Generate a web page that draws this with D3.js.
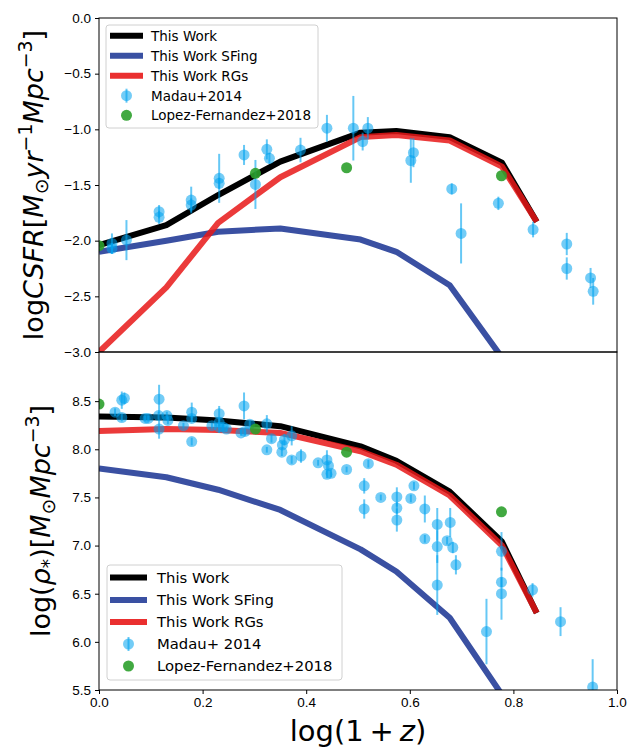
<!DOCTYPE html>
<html>
<head>
<meta charset="utf-8">
<script src="https://cdn.jsdelivr.net/npm/d3@7"></script>
<style>
  body { margin: 0; background: #fff; }
  svg { font-family: "DejaVu Sans", sans-serif; }
  .tick text { font-size: 13.5px; fill: #000; }
  .tick line { stroke: #000; }
</style>
</head>
<body>
<svg id="chart" width="630" height="748"></svg>
<script>
// model curves, x = log(1+z)
const modelX = [0, 0.13, 0.23, 0.35, 0.505, 0.574, 0.677, 0.778, 0.845];
const csfrAll = [-2.04, -1.86, -1.59, -1.29, -1.03, -1.015, -1.07, -1.30, -1.83];
const csfrSF  = [-2.10, -2.00, -1.92, -1.89, -1.99, -2.10, -2.40, -3.05, -3.6];
const csfrRG  = [-3.00, -2.42, -1.84, -1.43, -1.07, -1.05, -1.10, -1.335, -1.83];
const rhoAll = [8.34, 8.33, 8.30, 8.24, 8.03, 7.88, 7.56, 7.04, 6.30];
const rhoSF  = [7.80, 7.71, 7.58, 7.37, 6.96, 6.73, 6.25, 5.45, 4.9];
const rhoRG  = [8.19, 8.21, 8.20, 8.17, 7.98, 7.84, 7.52, 7.00, 6.30];

// Madau & Dickinson 2014 compilation, CSFR
const madauSfrX = [0.025, 0.025, 0.053, 0.116, 0.116, 0.178, 0.178, 0.232, 0.232, 0.28, 0.302, 0.324, 0.329, 0.389,
  0.44, 0.491, 0.519, 0.509, 0.607, 0.602, 0.681, 0.699, 0.771, 0.838, 0.903, 0.903, 0.949, 0.954];
const madauSfrY = [-2.025, -2.07, -1.995, -1.74, -1.79, -1.635, -1.68, -1.44, -1.485, -1.23, -1.495, -1.18, -1.26, -1.186,
  -0.99, -0.99, -0.99, -1.11, -1.21, -1.28, -1.535, -1.935, -1.665, -1.9, -2.03, -2.25, -2.335, -2.455];
const madauSfrErr = [0.09, 0.05, 0.18, 0.06, 0.06, 0.12, 0.06, 0.22, 0.05, 0.09, 0.22, 0.09, 0.05, 0.11,
  0.12, 0.29, 0.1, 0.08, 0.13, 0.2, 0.05, 0.27, 0.06, 0.07, 0.1, 0.1, 0.09, 0.12];

// Madau & Dickinson 2014 compilation, stellar mass density
const madauRhoX = [0.031, 0.044, 0.044, 0.049, 0.089, 0.095, 0.116, 0.115, 0.116, 0.131, 0.133, 0.163, 0.179, 0.179,
  0.179, 0.218, 0.232, 0.232, 0.232, 0.24, 0.28, 0.246, 0.274, 0.282, 0.291, 0.324, 0.333, 0.324, 0.354, 0.358,
  0.372, 0.353, 0.372, 0.39, 0.423, 0.44, 0.443, 0.44, 0.448, 0.478, 0.52, 0.512, 0.512, 0.544, 0.575, 0.575,
  0.575, 0.608, 0.602, 0.629, 0.629, 0.653, 0.653, 0.653, 0.678, 0.672, 0.683, 0.689, 0.748, 0.777, 0.777, 0.777,
  0.837, 0.891, 0.953];
const madauRhoY = [8.385, 8.33, 8.51, 8.53, 8.32, 8.32, 8.52, 8.35, 8.21, 8.35, 8.30, 8.245, 8.385, 8.32,
  8.08, 8.245, 8.37, 8.28, 8.23, 8.23, 8.45, 8.21, 8.17, 8.185, 8.26, 8.265, 8.11, 7.995, 8.045, 8.10,
  8.14, 7.97, 7.89, 7.93, 7.86, 7.89, 7.83, 7.74, 7.75, 7.79, 7.85, 7.62, 7.38, 7.5, 7.505, 7.39,
  7.265, 7.62, 7.49, 7.38, 7.07, 7.22, 6.99, 6.59, 7.24, 7.05, 6.98, 6.80, 6.107, 6.94, 6.62, 6.50,
  6.54, 6.21, 5.53];
const madauRhoErr = [0.04, 0.04, 0.09, 0.06, 0.03, 0.03, 0.15, 0.04, 0.1, 0.04, 0.04, 0.03, 0.1, 0.04,
  0.04, 0.03, 0.08, 0.04, 0.06, 0.04, 0.14, 0.03, 0.03, 0.04, 0.04, 0.09, 0.04, 0.03, 0.04, 0.06,
  0.1, 0.04, 0.04, 0.07, 0.03, 0.1, 0.04, 0.04, 0.04, 0.03, 0.04, 0.08, 0.1, 0.03, 0.1, 0.06,
  0.12, 0.04, 0.04, 0.14, 0.04, 0.17, 0.17, 0.31, 0.15, 0.04, 0.06, 0.1, 0.34, 0.2, 0.05, 0.27,
  0.07, 0.15, 0.29];

// Lopez-Fernandez+2018
const lopezX = [0, 0.302, 0.478, 0.777];
const lopezSfr = [-2.045, -1.395, -1.345, -1.417];
const lopezRho = [8.47, 8.21, 7.97, 7.35];

const sfrTicks = [0, -0.5, -1, -1.5, -2, -2.5, -3];
const rhoTicks = [5.5, 6, 6.5, 7, 7.5, 8, 8.5];
const xTicks = [0, 0.2, 0.4, 0.6, 0.8, 1.0];

const colAll = '#000000', colSF = '#3a50a2', colRG = '#e81818';
const colMadau = '#00a3ee', colLopez = '#2ca02c';

const svg = d3.select('#chart');
const left = 99, right = 617;

const x = d3.scaleLinear().domain([0, 1]).range([left, right]);
const ySfr = d3.scaleLinear().domain([-3, 0]).range([352, 18]);
const yRho = d3.scaleLinear().domain([5.5, 9.0]).range([690, 353]);

function panel(id, y, curves, mx, my, merr, ly, top, bottom) {
  svg.append('clipPath').attr('id', id)
    .append('rect').attr('x', left).attr('y', top).attr('width', right - left).attr('height', bottom - top);
  const g = svg.append('g').attr('clip-path', `url(#${id})`);

  const line = d3.line().x((d, i) => x(modelX[i])).y(d => y(d));
  curves.forEach(c => {
    g.append('path').datum(c.v)
      .attr('d', line)
      .attr('fill', 'none')
      .attr('stroke', c.col)
      .attr('stroke-opacity', c.op)
      .attr('stroke-width', 6)
      .attr('stroke-linejoin', 'round');
  });

  // Madau points with error bars
  const pts = mx.map((d, i) => [d, my[i], merr[i]]);
  const pg = g.append('g');
  pg.selectAll('.err').data(pts).enter().append('line')
    .attr('x1', d => x(d[0])).attr('x2', d => x(d[0]))
    .attr('y1', d => y(d[1] - d[2])).attr('y2', d => y(d[1] + d[2]))
    .attr('stroke', colMadau).attr('stroke-opacity', 0.6).attr('stroke-width', 2);
  pg.selectAll('.dot').data(pts).enter().append('circle')
    .attr('cx', d => x(d[0])).attr('cy', d => y(d[1])).attr('r', 5.5)
    .attr('fill', colMadau).attr('fill-opacity', 0.55);

  g.selectAll('.lopez').data(lopezX).enter().append('circle')
    .attr('cx', d => x(d)).attr('cy', (d, i) => y(ly[i])).attr('r', 5.5)
    .attr('fill', colLopez).attr('fill-opacity', 0.9);
}

panel('clipTop', ySfr, [
  {v: csfrAll, col: colAll, op: 1},
  {v: csfrSF, col: colSF, op: 1},
  {v: csfrRG, col: colRG, op: 0.85}
], madauSfrX, madauSfrY, madauSfrErr, lopezSfr, 18, 352);

panel('clipBot', yRho, [
  {v: rhoAll, col: colAll, op: 1},
  {v: rhoSF, col: colSF, op: 1},
  {v: rhoRG, col: colRG, op: 0.85}
], madauRhoX, madauRhoY, madauRhoErr, lopezRho, 352, 690);

// axes
const fmt = d3.format('.1f');
svg.append('g').attr('transform', `translate(${left},0)`)
  .call(d3.axisLeft(ySfr).tickValues(sfrTicks).tickFormat(fmt).tickSize(4).tickPadding(4).tickSizeOuter(0))
  .call(g => g.select('.domain').remove());
svg.append('g').attr('transform', `translate(${left},0)`)
  .call(d3.axisLeft(yRho).tickValues(rhoTicks).tickFormat(fmt).tickSize(4).tickPadding(4).tickSizeOuter(0))
  .call(g => g.select('.domain').remove());
svg.append('g').attr('transform', 'translate(0,690)')
  .call(d3.axisBottom(x).tickValues(xTicks).tickFormat(fmt).tickSize(4).tickPadding(3).tickSizeOuter(0))
  .call(g => g.select('.domain').remove());

// frames
[[18, 352], [352, 690]].forEach(([t, b]) => {
  svg.append('rect').attr('x', left).attr('y', t).attr('width', right - left).attr('height', b - t)
    .attr('fill', 'none').attr('stroke', '#000').attr('stroke-width', 1);
});

// legends
function legend(bx, by, bw, bh, rowY, fs, hx1, hx2, tx, madauLabel) {
  const lg = svg.append('g');
  lg.append('rect').attr('x', bx).attr('y', by).attr('width', bw).attr('height', bh)
    .attr('rx', 3).attr('fill', '#fff').attr('fill-opacity', 0.8)
    .attr('stroke', '#d0d0d0');
  const items = [
    {t: 'This Work', col: colAll, kind: 'line'},
    {t: 'This Work SFing', col: colSF, kind: 'line'},
    {t: 'This Work RGs', col: colRG, kind: 'line'},
    {t: madauLabel, col: colMadau, kind: 'err'},
    {t: 'Lopez-Fernandez+2018', col: colLopez, kind: 'dot'}
  ];
  items.forEach((it, i) => {
    const cy = rowY[i];
    const cx = (hx1 + hx2) / 2;
    if (it.kind === 'line') {
      lg.append('line').attr('x1', hx1).attr('x2', hx2).attr('y1', cy).attr('y2', cy)
        .attr('stroke', it.col).attr('stroke-width', 6).attr('stroke-opacity', i === 2 ? 0.9 : 1);
    } else if (it.kind === 'err') {
      lg.append('line').attr('x1', cx).attr('x2', cx).attr('y1', cy - 7).attr('y2', cy + 7)
        .attr('stroke', it.col).attr('stroke-opacity', 0.6).attr('stroke-width', 2);
      lg.append('circle').attr('cx', cx).attr('cy', cy).attr('r', 5.5)
        .attr('fill', it.col).attr('fill-opacity', 0.55);
    } else {
      lg.append('circle').attr('cx', cx).attr('cy', cy).attr('r', 5.5)
        .attr('fill', it.col).attr('fill-opacity', 0.9);
    }
    lg.append('text').attr('x', tx).attr('y', cy).attr('dy', '0.36em')
      .style('font-size', fs + 'px').text(it.t);
  });
}
legend(106, 25, 212, 103, [35.7, 55.7, 75.7, 95.7, 115.3], 13.5, 110, 143, 151, 'Madau+2014');
legend(107, 565, 235, 115, [577.5, 600, 622, 644, 666], 14.8, 110, 147, 157, 'Madau+ 2014');

// axis labels (mathtext style)
function mathLabel(parts, tx, ty, fs, rot) {
  const t = svg.append('text')
    .attr('transform', `translate(${tx},${ty}) rotate(${rot})`)
    .attr('text-anchor', 'middle')
    .style('font-size', fs + 'px');
  parts.forEach(p => {
    const s = t.append('tspan').text(p.s);
    if (p.i) s.style('font-style', 'italic');
    if (p.sup) s.style('font-size', (fs * 0.7) + 'px').attr('dy', -fs * 0.42);
    if (p.sub) s.style('font-size', (fs * 0.7) + 'px').attr('dy', fs * 0.2);
    if (p.back) s.attr('dy', p.back);
  });
  return t;
}
mathLabel([
  {s: 'log'}, {s: 'CSFR', i: true}, {s: '['}, {s: 'M', i: true},
  {s: '\u2299', sub: true}, {s: 'yr', i: true, back: -27 * 0.2}, {s: '\u22121', sup: true},
  {s: 'Mpc', i: true, back: 27 * 0.42}, {s: '\u22123', sup: true}, {s: ']', back: 27 * 0.42}
], 43, 185, 27, -90);
mathLabel([
  {s: 'log('}, {s: '\u03c1', i: true}, {s: '*', sub: true}, {s: ')[', back: -27 * 0.2},
  {s: 'M', i: true}, {s: '\u2299', sub: true}, {s: 'Mpc', i: true, back: -27 * 0.2},
  {s: '\u22123', sup: true}, {s: ']', back: 27 * 0.42}
], 50, 521, 27, -90);
mathLabel([
  {s: 'log(1\u2009+\u2009'}, {s: 'z', i: true}, {s: ')'}
], 358, 741, 29, 0);
</script>
</body>
</html>
